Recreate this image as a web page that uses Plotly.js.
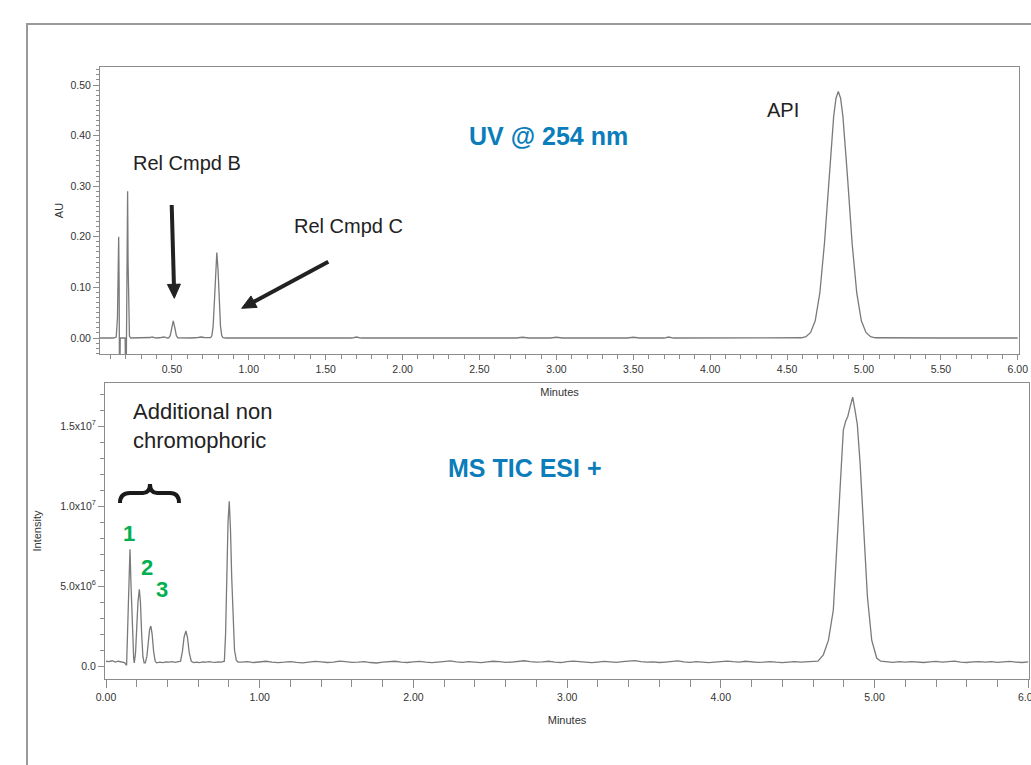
<!DOCTYPE html>
<html>
<head>
<meta charset="utf-8">
<script src="https://cdn.plot.ly/plotly-3.0.1.min.js"></script>
<style>html,body{margin:0;padding:0;background:#fff;}#chart{width:1031px;height:765px;}</style>
</head>
<body>
<div id="chart"></div>
<script>
// ---------- UV @ 254 nm trace (minutes, AU) ----------
const uvTime = [0.03,0.08,0.12,0.138,0.146,0.150,0.154,0.157,0.160,0.164,0.180,0.196,0.201,0.206,0.210,0.212,0.215,0.219,0.224,0.232,
  0.28,0.34,0.36,0.37,0.38,0.40,0.43,0.45,0.47,0.479,0.489,0.499,0.509,0.519,0.529,0.539,0.56,0.62,0.67,0.69,0.71,0.74,
  0.752,0.760,0.768,0.776,0.784,0.792,0.800,0.808,0.816,0.824,0.832,0.85,0.90,1.00,1.20,1.40,1.60,1.67,1.70,1.73,1.90,
  2.20,2.50,2.74,2.78,2.82,2.86,2.96,3.00,3.04,3.30,3.46,3.50,3.54,3.70,3.73,3.76,4.00,4.30,4.50,
  4.593,4.623,4.653,4.683,4.713,4.743,4.773,4.803,4.818,4.833,4.848,4.863,4.893,4.923,4.953,4.983,5.013,5.043,5.073,
  5.20,5.50,5.80,6.00];
const uvAbs = [0.000,0.000,0.000,0.002,0.040,0.120,0.200,0.100,-0.150,0.000,0.000,0.000,-0.150,0.100,0.253,0.290,0.150,0.030,0.004,0.000,
  0.000,0.000,0.001,0.002,0.001,0.000,0.001,0.002,0.000,0.0004,0.0046,0.0206,0.034,0.0206,0.0046,0.0004,0.000,0.000,0.001,0.002,0.001,0.000,
  0.0008,0.005,0.023,0.070,0.135,0.169,0.135,0.070,0.023,0.005,0.0008,0.000,0.000,0.000,0.000,0.000,0.000,0.000,0.002,0.000,0.000,
  0.000,0.000,0.000,0.0015,0.000,0.000,0.000,0.0015,0.000,0.000,0.000,0.0015,0.000,0.000,0.002,0.000,0.000,0.000,0.000,
  0.0005,0.0026,0.011,0.034,0.089,0.187,0.318,0.438,0.474,0.487,0.474,0.438,0.318,0.187,0.089,0.034,0.011,0.0026,0.0005,
  0.000,0.000,0.000,0.000];

// ---------- MS TIC ESI+ trace (minutes, intensity in millions of counts) ----------
const msTime = [0.00,0.02,0.04,0.06,0.08,0.10,0.12,
  0.134,0.142,0.150,0.156,0.163,0.172,0.180,0.184,
  0.192,0.200,0.208,0.217,0.224,0.232,0.240,0.248,
  0.256,0.266,0.276,0.284,0.292,0.300,0.310,0.320,0.330,
  0.35,0.37,0.39,0.41,0.43,0.45,0.47,
  0.485,0.497,0.508,0.520,0.530,0.542,0.555,0.57,
  0.59,0.61,0.63,0.65,0.67,0.69,0.71,0.73,0.75,
  0.770,0.778,0.786,0.794,0.802,0.810,0.818,0.826,0.836,0.848,0.86,
  0.88,0.92,0.96,1.00,1.04,1.08,1.12,1.16,1.20,1.24,1.28,1.32,1.36,1.40,1.44,1.48,1.52,1.56,1.60,1.64,
  1.68,1.72,1.76,1.80,1.84,1.88,1.92,1.96,2.00,2.04,2.08,2.12,2.16,2.20,2.24,2.28,2.32,2.36,2.40,2.44,
  2.48,2.52,2.56,2.60,2.64,2.68,2.72,2.76,2.80,2.84,2.88,2.92,2.96,3.00,3.04,3.08,3.12,3.16,3.20,3.24,
  3.28,3.32,3.36,3.40,3.44,3.48,3.52,3.56,3.60,3.64,3.68,3.72,3.76,3.80,3.84,3.88,3.92,3.96,4.00,4.04,
  4.08,4.12,4.16,4.20,4.24,4.28,4.32,4.36,4.40,4.44,4.48,4.52,4.56,4.60,
  4.632,4.667,4.700,4.732,4.754,4.775,4.797,4.812,4.826,4.841,4.858,4.873,4.888,4.906,4.928,4.954,4.982,5.014,
  5.04,5.08,5.12,5.16,5.20,5.24,5.28,5.32,5.36,5.40,5.44,5.48,5.52,5.56,5.60,5.64,5.68,5.72,5.76,5.80,
  5.84,5.88,5.92,5.96,6.00];
const msIntensityMillions = [0.30,0.28,0.33,0.25,0.30,0.27,0.22,
  0.05,2.5,5.5,7.3,5.0,2.0,0.5,0.2,
  0.8,2.4,4.0,4.8,4.0,2.0,0.6,0.2,
  0.2,0.6,1.5,2.3,2.5,2.0,0.9,0.3,0.2,
  0.25,0.22,0.26,0.24,0.27,0.23,0.25,
  0.3,0.9,1.8,2.2,1.8,0.8,0.3,0.22,
  0.25,0.22,0.26,0.24,0.28,0.25,0.23,0.26,0.24,
  0.3,2.0,5.5,9.0,10.3,8.5,5.5,3.0,1.0,0.35,0.25,
  0.24,0.27,0.22,0.26,0.30,0.25,0.21,0.24,0.28,0.23,0.20,0.25,0.29,0.26,0.22,0.24,0.31,0.27,0.23,0.25,
  0.28,0.22,0.19,0.24,0.27,0.30,0.25,0.22,0.26,0.29,0.24,0.21,0.25,0.28,0.32,0.26,0.23,0.27,0.24,0.21,
  0.26,0.30,0.27,0.23,0.25,0.29,0.33,0.28,0.24,0.26,0.30,0.25,0.22,0.27,0.31,0.28,0.24,0.21,0.25,0.29,
  0.26,0.23,0.27,0.30,0.34,0.27,0.24,0.26,0.22,0.25,0.29,0.32,0.26,0.23,0.27,0.25,0.21,0.24,0.28,0.31,
  0.27,0.24,0.30,0.26,0.23,0.25,0.28,0.24,0.21,0.25,0.28,0.24,0.26,0.29,
  0.30,0.7,1.6,3.5,7.5,11.6,14.75,15.3,15.6,16.2,16.8,16.0,15.1,12.7,8.5,4.3,1.6,0.5,
  0.30,0.26,0.23,0.27,0.24,0.28,0.25,0.22,0.26,0.29,0.24,0.27,0.31,0.25,0.22,0.26,0.28,0.24,0.27,0.23,
  0.26,0.29,0.25,0.22,0.26];

// ---------- tick labels ----------
const msTickVals = [0, 5, 10, 15];
const msTickText = ['0.0', '5.0x10<sup>6</sup>', '1.0x10<sup>7</sup>', '1.5x10<sup>7</sup>'];

// ---------- page geometry helpers (pixel -> paper) ----------
const W = 1031, H = 765;
const px = x => x / W;
const py = y => 1 - y / H;

const tickFontFamily = 'Liberation Sans Narrow, Arial Narrow, Liberation Sans, Arial, sans-serif';
const textFont = 'Liberation Sans, Arial, sans-serif';
const axisGray = '#8c8c8c';
const traceGray = '#7a7a7a';
const blue = '#0b7dbb';
const green = '#00b050';
const arrowColor = '#222222';

const baseAxis = {
  showline: true, linecolor: axisGray, linewidth: 1, mirror: true,
  ticks: 'outside', tickcolor: axisGray, ticklen: 6, tickwidth: 1,
  showgrid: false, zeroline: false, ticklabeloverflow: 'allow',
  tickfont: {family: tickFontFamily, size: 10.5, color: '#333'},
  fixedrange: true
};

const traces = [
  {x: uvTime, y: uvAbs, xaxis: 'x', yaxis: 'y', type: 'scatter', mode: 'lines',
   line: {color: traceGray, width: 1.3}, hoverinfo: 'x+y', name: 'UV 254 nm'},
  {x: msTime, y: msIntensityMillions, xaxis: 'x2', yaxis: 'y2', type: 'scatter', mode: 'lines',
   line: {color: traceGray, width: 1.3}, hoverinfo: 'x+y', name: 'MS TIC ESI+'}
];

// brace drawn as a pixel path converted to paper units
const bracePix = [['M',120,503],['Q',120,493,130,493],['L',143,493],['Q',150,493,150,484],
                  ['Q',150,493,157,493],['L',170,493],['Q',179,493,179,503]];
const bracePath = bracePix.map(seg => {
  const cmd = seg[0]; const nums = seg.slice(1); const out = [];
  for (let i = 0; i < nums.length; i += 2) out.push(px(nums[i]).toFixed(5) + ',' + py(nums[i+1]).toFixed(5));
  return cmd + out.join(' ');
}).join(' ');

// arrow = thick line + filled triangular head, positioned in page pixels
function arrowShapes(tailX, tailY, tipX, tipY, headLen, headHalf, width) {
  const dx = tipX - tailX, dy = tipY - tailY, len = Math.hypot(dx, dy);
  const ux = dx / len, uy = dy / len, nx = -uy, ny = ux;
  const bx = tipX - ux * headLen, by = tipY - uy * headLen;
  const p = (x, y) => px(x).toFixed(5) + ',' + py(y).toFixed(5);
  return [
    {type: 'line', xref: 'paper', yref: 'paper', x0: px(tailX), y0: py(tailY),
     x1: px(bx + ux * 2), y1: py(by + uy * 2), line: {color: arrowColor, width: width}},
    {type: 'path', xref: 'paper', yref: 'paper',
     path: 'M' + p(tipX, tipY) + ' L' + p(bx + nx * headHalf, by + ny * headHalf) +
           ' L' + p(bx - nx * headHalf, by - ny * headHalf) + ' Z',
     fillcolor: arrowColor, line: {color: arrowColor, width: 1}}
  ];
}

const labelAnn = (text, x, y, size, opts) => Object.assign({
  text: text, x: px(x), y: py(y), xref: 'paper', yref: 'paper',
  xanchor: 'center', yanchor: 'middle', showarrow: false,
  font: {family: textFont, size: size, color: '#222'}
}, opts || {});

const layout = {
  width: W, height: H, autosize: false,
  margin: {l: 0, r: 0, t: 0, b: 0, pad: 0},
  paper_bgcolor: '#ffffff', plot_bgcolor: '#ffffff',
  showlegend: false,
  font: {family: textFont, color: '#222'},
  xaxis: Object.assign({}, baseAxis, {
    domain: [px(100), px(1019)], anchor: 'y', range: [0.0325, 6.008],
    tick0: 0, dtick: 0.5, tickformat: '.2f', ticklen: 5,
    minor: {dtick: 0.1, tick0: 0, ticks: 'outside', ticklen: 4, tickcolor: axisGray},
    title: {text: 'Minutes', font: {family: tickFontFamily, size: 11, color: '#333'}, standoff: 14}
  }),
  yaxis: Object.assign({}, baseAxis, {
    domain: [py(354), py(67)], anchor: 'x', range: [-0.0316, 0.5356],
    tick0: 0, dtick: 0.1, tickformat: '.2f',
    minor: {dtick: 0.01, tick0: 0, ticks: 'outside', ticklen: 3, tickcolor: axisGray},
    title: {text: 'AU', font: {family: tickFontFamily, size: 11, color: '#333'}, standoff: 4}
  }),
  xaxis2: Object.assign({}, baseAxis, {
    domain: [px(105), px(1029)], anchor: 'y2', range: [-0.0065, 6.005],
    tick0: 0, dtick: 1, tickformat: '.2f', ticklen: 8,
    minor: {dtick: 0.2, tick0: 0, ticks: 'outside', ticklen: 7, tickcolor: axisGray},
    title: {text: 'Minutes', font: {family: tickFontFamily, size: 11, color: '#333'}, standoff: 14}
  }),
  yaxis2: Object.assign({}, baseAxis, {
    domain: [py(679), py(383)], anchor: 'x2', range: [-0.81, 17.69],
    tickmode: 'array', tickvals: msTickVals, ticktext: msTickText,
    minor: {tickmode: 'linear', tick0: 0, dtick: 1, ticks: 'outside', ticklen: 4, tickcolor: axisGray},
    title: {text: 'Intensity', font: {family: tickFontFamily, size: 11, color: '#333'}, standoff: 16}
  }),
  shapes: [
    {type: 'rect', xref: 'paper', yref: 'paper', x0: px(27), x1: px(1040), y0: py(775), y1: py(24),
     line: {color: '#9a9a9a', width: 2}, fillcolor: 'rgba(0,0,0,0)', layer: 'below'},
    {type: 'path', xref: 'paper', yref: 'paper', path: bracePath,
     line: {color: '#1a1a1a', width: 4}, fillcolor: 'rgba(0,0,0,0)'}
  ].concat(arrowShapes(171.7, 205, 174.3, 298.3, 14, 6.5, 4))
   .concat(arrowShapes(328.3, 261.7, 241.7, 308.3, 14, 6.5, 4)),
  annotations: [
    labelAnn('<b>UV @ 254 nm</b>', 548, 136, 25, {font: {family: textFont, size: 25, color: blue}}),
    labelAnn('<b>MS TIC ESI +</b>', 525, 468, 25, {font: {family: textFont, size: 25, color: blue}}),
    labelAnn('API', 783, 110, 20),
    labelAnn('Rel Cmpd B', 187, 163, 20),
    labelAnn('Rel Cmpd C', 348, 226, 20),
    labelAnn('Additional non<br>chromophoric', 131, 426, 22, {xanchor: 'left', align: 'left'}),
    labelAnn('<b>1</b>', 129, 533, 22, {font: {family: textFont, size: 22, color: green}}),
    labelAnn('<b>2</b>', 147, 567, 22, {font: {family: textFont, size: 22, color: green}}),
    labelAnn('<b>3</b>', 162, 589, 22, {font: {family: textFont, size: 22, color: green}})
  ]
};

Plotly.newPlot('chart', traces, layout, {displayModeBar: false, staticPlot: true});
</script>
</body>
</html>
